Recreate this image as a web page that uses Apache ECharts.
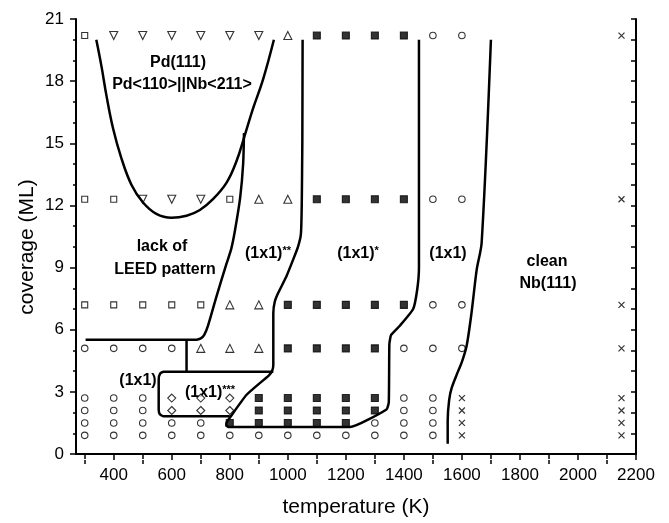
<!DOCTYPE html>
<html><head><meta charset="utf-8">
<script src="https://cdn.jsdelivr.net/npm/echarts@6/dist/echarts.min.js"></script>
<style>html,body{margin:0;padding:0;background:#fff}#c{width:669px;height:523px}</style>
</head><body><div id="c"></div>
<script>
// ---- axis ticks ----
const xMajorTicks = [400,600,800,1000,1200,1400,1600,1800,2000,2200];
const xMinorTicks = [300,500,700,900,1100,1300,1500,1700,1900,2100];
const xTopTicks = [300,400,500,600,700,800,900,1000,1100,1200,1300,1400,1500,1600,1700,1800,1900,2000,2100];

// ---- measured points [temperature K, coverage ML] ----
const openSquares = [[300,20.2],[300,12.3],[400,12.3],[800,12.3],[300,7.2],[400,7.2],[500,7.2],[600,7.2],[700,7.2]];
const downTriangles = [[400,20.2],[500,20.2],[600,20.2],[700,20.2],[800,20.2],[900,20.2],[500,12.3],[600,12.3],[700,12.3]];
const upTriangles = [[1000,20.2],[900,12.3],[1000,12.3],[800,7.2],[900,7.2],[700,5.1],[800,5.1],[900,5.1]];
const filledSquares = [
  [1100,20.2],[1200,20.2],[1300,20.2],[1400,20.2],
  [1100,12.3],[1200,12.3],[1300,12.3],[1400,12.3],
  [1000,7.2],[1100,7.2],[1200,7.2],[1300,7.2],[1400,7.2],
  [1000,5.1],[1100,5.1],[1200,5.1],[1300,5.1],
  [900,2.7],[1000,2.7],[1100,2.7],[1200,2.7],[1300,2.7],
  [900,2.1],[1000,2.1],[1100,2.1],[1200,2.1],[1300,2.1],
  [800,1.5],[900,1.5],[1000,1.5],[1100,1.5],[1200,1.5]
];
const openCircles = [
  [1500,20.2],[1600,20.2],
  [1500,12.3],[1600,12.3],
  [1500,7.2],[1600,7.2],
  [300,5.1],[400,5.1],[500,5.1],[600,5.1],[1400,5.1],[1500,5.1],[1600,5.1],
  [300,2.7],[400,2.7],[500,2.7],[1400,2.7],[1500,2.7],
  [300,2.1],[400,2.1],[500,2.1],[1400,2.1],[1500,2.1],
  [300,1.5],[400,1.5],[500,1.5],[600,1.5],[700,1.5],[1300,1.5],[1400,1.5],[1500,1.5],
  [300,0.9],[400,0.9],[500,0.9],[600,0.9],[700,0.9],[800,0.9],[900,0.9],[1000,0.9],[1100,0.9],[1200,0.9],[1300,0.9],[1400,0.9],[1500,0.9]
];
const diamonds = [[600,2.7],[700,2.7],[800,2.7],[600,2.1],[700,2.1],[800,2.1]];
const crosses = [
  [2150,20.2],[2150,12.3],[2150,7.2],[2150,5.1],
  [1600,2.7],[2150,2.7],[1600,2.1],[2150,2.1],[1600,1.5],[2150,1.5],[1600,0.9],[2150,0.9]
];

// ---- phase boundaries [temperature K, coverage ML] ----
const pdBoundary = [[340,20.0],[358,18.7],[375,17.3],[398,15.7],[426,14.3],[461,13.0],[501,12.14],[547,11.59],[599,11.4],[651,11.5],[697,11.78],[742,12.3],[789,13.1],[823,14.13],[852,15.4],[880,16.67],[915,18.1],[952,20.0]];
const leedBoundary = [[849,15.5],[846,14.0],[836,12.4],[818,10.8],[805,9.9],[789,9.2],[754,7.6],[725,6.2],[712,5.75],[700,5.58],[685,5.52],[303,5.52]];
const leedSplit = [[651,5.52],[651,3.97]];
const box3Boundary = [[950,3.97],[572,3.97],[560,3.88],[555,3.6],[555,2.15],[559,1.92],[572,1.82],[800,1.82]];
const starBoundary = [[1051,20.0],[1050,15.0],[1048,12.0],[1045,10.6],[1035,10.0],[1018,9.37],[995,8.57],[967,7.78],[955,7.35],[950,6.8],[950,4.3],[946,4.02],[935,3.8],[858,2.86],[800,1.75],[789,1.52],[788,1.38],[797,1.3],[1214,1.3],[1340,2.15],[1348,2.5],[1350,5.3],[1356,5.75],[1386,6.19],[1432,7.0],[1446,7.94],[1452,9.0],[1452,20.0]];
const cleanBoundary = [[1700,20.0],[1668,10.2],[1651,8.9],[1633,6.8],[1616,5.2],[1600,4.45],[1587,4.0],[1565,3.2],[1556,2.6],[1551,1.6],[1551,0.5]];

const FONT = "'Liberation Sans', Arial, sans-serif";
const chart = echarts.init(document.getElementById('c'), null, {renderer:'canvas'});

function pts(data, symbol, size, filled, rotate){
  return {type:'scatter', data, symbol, symbolSize:size, symbolRotate:rotate||0, z:3,
    itemStyle:{color: filled ? '#000' : '#fff', borderColor:'#000', borderWidth:1.1}};
}
function curve(data, smooth){
  return {type:'line', data, symbol:'none', smooth: smooth||false, z:4, silent:true,
    lineStyle:{color:'#000', width:2.5}};
}
const crossPath = 'path://M0,0L10,10M10,0L0,10';
const plain = v => String(v);

const gridBox = {left:76, right:33, top:19, bottom:63, containLabel:false};
chart.setOption({
  animation:false,
  backgroundColor:'#fff',
  grid:[Object.assign({}, gridBox), Object.assign({show:false}, gridBox)],
  xAxis:[
    {type:'value', gridIndex:0, position:'bottom', min:270, max:2200,
     name:'temperature (K)', nameLocation:'middle', nameGap:43,
     nameTextStyle:{fontFamily:FONT, fontSize:21, color:'#000'},
     axisLine:{lineStyle:{color:'#000', width:2}},
     axisTick:{customValues:xMajorTicks, length:6, lineStyle:{color:'#000', width:1.5}},
     axisLabel:{customValues:xMajorTicks, formatter:plain, margin:13, fontFamily:FONT, fontSize:17, color:'#000'},
     splitLine:{show:false}},
    {type:'value', gridIndex:0, position:'top', min:270, max:2200,
     axisLine:{lineStyle:{color:'#000', width:2}},
     axisTick:{customValues:xTopTicks, inside:true, length:5, lineStyle:{color:'#000', width:1.5}},
     axisLabel:{show:false}, splitLine:{show:false}},
    {type:'value', gridIndex:1, position:'bottom', min:270, max:2200,
     axisLine:{show:false},
     axisTick:{customValues:xMinorTicks, length:4, lineStyle:{color:'#000', width:1.5}},
     axisLabel:{show:false}, splitLine:{show:false}}
  ],
  yAxis:[
    {type:'value', gridIndex:0, position:'left', min:0, max:21, interval:3,
     axisLine:{lineStyle:{color:'#000', width:2}},
     axisTick:{length:6, lineStyle:{color:'#000', width:1.5}},
     minorTick:{show:true, splitNumber:3, length:3, lineStyle:{color:'#000', width:1.5}},
     axisLabel:{formatter:plain, margin:12, fontFamily:FONT, fontSize:17, color:'#000'},
     splitLine:{show:false}, minorSplitLine:{show:false}},
    {type:'value', gridIndex:0, position:'right', min:0, max:21, interval:1,
     axisLine:{lineStyle:{color:'#000', width:2}},
     axisTick:{inside:true, length:5, lineStyle:{color:'#000', width:1.5}},
     axisLabel:{show:false}, splitLine:{show:false}},
    {type:'value', gridIndex:1, min:0, max:21, show:false}
  ],
  series:[
    pts(openSquares,'rect',6,false),
    pts(downTriangles,'triangle',8,false,180),
    pts(upTriangles,'triangle',8,false),
    pts(filledSquares,'rect',7,true),
    pts(openCircles,'circle',6.5,false),
    pts(diamonds,'diamond',8,false),
    {type:'scatter', data:crosses, symbol:crossPath, symbolSize:6, z:3,
     itemStyle:{color:'none', borderColor:'#000', borderWidth:1.2}},
    curve(pdBoundary, 0.4),
    curve(leedBoundary, 0.25),
    curve(leedSplit),
    curve(box3Boundary, 0.2),
    curve(starBoundary, 0.15),
    curve(cleanBoundary, 0.3)
  ],
  graphic:[
    {type:'text', x:27, y:247, rotation:Math.PI/2, style:{text:'coverage (ML)', font:'21px '+FONT, fill:'#000', align:'center', verticalAlign:'middle'}},
    {type:'text', x:178, y:63, style:{text:'Pd(111)', font:'bold 16px '+FONT, fill:'#000', align:'center', verticalAlign:'middle'}},
    {type:'text', x:182, y:85, style:{text:'Pd<110>||Nb<211>', font:'bold 16px '+FONT, fill:'#000', align:'center', verticalAlign:'middle'}},
    {type:'text', x:162, y:247, style:{text:'lack of', font:'bold 16px '+FONT, fill:'#000', align:'center', verticalAlign:'middle'}},
    {type:'text', x:165, y:270, style:{text:'LEED pattern', font:'bold 16px '+FONT, fill:'#000', align:'center', verticalAlign:'middle'}},
    {type:'text', x:268, y:254, style:{text:'{a|(1x1)}{s|**}', align:'center', verticalAlign:'middle',
      rich:{a:{font:'bold 16px '+FONT, fill:'#000', lineHeight:20}, s:{font:'bold 11px '+FONT, fill:'#000', lineHeight:20, padding:[0,0,7,0]}}}},
    {type:'text', x:358, y:254, style:{text:'{a|(1x1)}{s|*}', align:'center', verticalAlign:'middle',
      rich:{a:{font:'bold 16px '+FONT, fill:'#000', lineHeight:20}, s:{font:'bold 11px '+FONT, fill:'#000', lineHeight:20, padding:[0,0,7,0]}}}},
    {type:'text', x:448, y:254, style:{text:'(1x1)', font:'bold 16px '+FONT, fill:'#000', align:'center', verticalAlign:'middle'}},
    {type:'text', x:547, y:262, style:{text:'clean', font:'bold 16px '+FONT, fill:'#000', align:'center', verticalAlign:'middle'}},
    {type:'text', x:548, y:284, style:{text:'Nb(111)', font:'bold 16px '+FONT, fill:'#000', align:'center', verticalAlign:'middle'}},
    {type:'text', x:138, y:381, style:{text:'(1x1)', font:'bold 16px '+FONT, fill:'#000', align:'center', verticalAlign:'middle'}},
    {type:'text', x:210, y:393, style:{text:'{a|(1x1)}{s|***}', align:'center', verticalAlign:'middle',
      rich:{a:{font:'bold 16px '+FONT, fill:'#000', lineHeight:20}, s:{font:'bold 11px '+FONT, fill:'#000', lineHeight:20, padding:[0,0,7,0]}}}}
  ]
});
</script>
</body></html>
